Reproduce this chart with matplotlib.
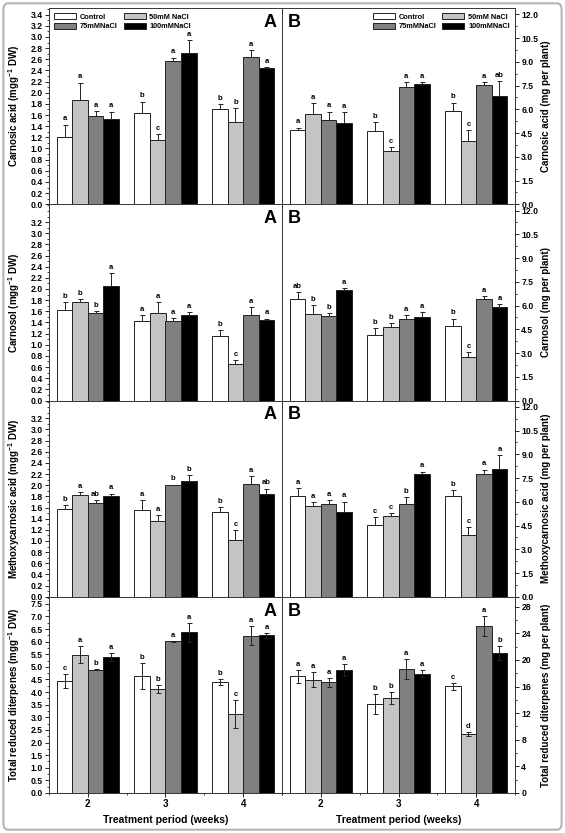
"""Salt-stress effects on rosemary diterpenes: per dry weight (A) and per plant (B)."""

import matplotlib.pyplot as plt
import numpy as np
from matplotlib.patches import FancyBboxPatch
from matplotlib.ticker import MultipleLocator, FixedLocator

plt.rcParams["font.family"] = ["Liberation Sans", "DejaVu Sans"]
plt.rcParams["font.weight"] = "bold"
plt.rcParams["mathtext.fontset"] = "custom"
plt.rcParams["mathtext.rm"] = "Liberation Sans:bold"
plt.rcParams["mathtext.default"] = "rm"

weeks = [2, 3, 4]
treatments = ["Control", "50mM NaCl", "75mMNaCl", "100mMNaCl"]
bar_colors = ["white", "#c4c4c4", "#808080", "black"]

# rows = treatments, columns = weeks 2, 3, 4
ca_dw = [[1.20, 1.63, 1.70], [1.87, 1.15, 1.47], [1.59, 2.57, 2.64], [1.53, 2.72, 2.44]]
ca_dw_err = [[0.23, 0.21, 0.09], [0.31, 0.11, 0.25], [0.08, 0.06, 0.13], [0.13, 0.22, 0.02]]
ca_dw_let = [["a", "b", "b"], ["a", "c", "b"], ["a", "a", "a"], ["a", "a", "a"]]

ca_pl = [[4.71, 4.65, 5.91], [5.69, 3.35, 3.99], [5.35, 7.40, 7.53], [5.12, 7.57, 6.82]]
ca_pl_err = [[0.13, 0.53, 0.51], [0.70, 0.28, 0.70], [0.50, 0.32, 0.17], [0.70, 0.15, 0.96]]
ca_pl_let = [["a", "b", "b"], ["a", "c", "c"], ["a", "a", "a"], ["a", "a", "ab"]]

cs_dw = [[1.62, 1.43, 1.15], [1.77, 1.57, 0.65], [1.57, 1.43, 1.54], [2.05, 1.54, 1.45]]
cs_dw_err = [[0.14, 0.10, 0.11], [0.05, 0.19, 0.08], [0.03, 0.05, 0.14], [0.24, 0.04, 0.02]]
cs_dw_let = [["b", "a", "b"], ["b", "a", "c"], ["b", "a", "a"], ["a", "a", "a"]]

cs_pl = [[6.40, 4.11, 4.71], [5.45, 4.66, 2.78], [5.33, 5.13, 6.42], [6.97, 5.30, 5.88]]
cs_pl_err = [[0.45, 0.47, 0.47], [0.56, 0.21, 0.28], [0.21, 0.26, 0.17], [0.15, 0.30, 0.21]]
cs_pl_let = [["ab", "b", "b"], ["b", "b", "c"], ["b", "a", "a"], ["a", "a", "a"]]

mc_dw = [[1.57, 1.55, 1.52], [1.82, 1.36, 1.01], [1.69, 2.00, 2.03], [1.81, 2.07, 1.84]]
mc_dw_err = [[0.08, 0.19, 0.09], [0.06, 0.10, 0.19], [0.04, 0.01, 0.14], [0.04, 0.11, 0.10]]
mc_dw_let = [["b", "a", "b"], ["a", "a", "c"], ["ab", "b", "a"], ["a", "b", "ab"]]

mc_pl = [[6.39, 4.56, 6.39], [5.73, 5.13, 3.90], [5.84, 5.88, 7.73], [5.33, 7.78, 8.08]]
mc_pl_err = [[0.48, 0.46, 0.33], [0.26, 0.15, 0.51], [0.29, 0.40, 0.31], [0.68, 0.13, 0.88]]
mc_pl_let = [["a", "c", "b"], ["a", "c", "c"], ["a", "b", "a"], ["a", "a", "a"]]

td_dw = [[4.45, 4.64, 4.41], [5.48, 4.11, 3.13], [4.89, 6.02, 6.24], [5.40, 6.37, 6.25]]
td_dw_err = [[0.28, 0.51, 0.11], [0.34, 0.16, 0.56], [0.02, 0.02, 0.38], [0.16, 0.37, 0.09]]
td_dw_let = [["c", "b", "b"], ["a", "b", "c"], ["b", "a", "a"], ["a", "a", "a"]]

td_pl = [[17.56, 13.40, 16.06], [17.06, 14.30, 8.83], [16.66, 18.57, 25.04], [18.47, 17.96, 21.07]]
td_pl_err = [[1.0, 1.5, 0.55], [1.1, 0.95, 0.3], [0.7, 1.5, 1.5], [0.85, 0.5, 1.05]]
td_pl_let = [["a", "b", "c"], ["a", "b", "d"], ["a", "a", "a"], ["a", "a", "b"]]

left_labels = [
    r"Carnosic acid (mgg$^{-1}$ DW)",
    r"Carnosol (mgg$^{-1}$ DW)",
    r"Methoxycarnosic acid (mgg$^{-1}$ DW)",
    r"Total reduced diterpenes (mgg$^{-1}$ DW)",
]
right_labels = [
    "Carnosic acid (mg per plant)",
    "Carnosol (mg per plant)",
    "Methoxycarnosic acid (mg per plant)",
    "Total reduced diterpenes (mg per plant)",
]

rows = [
    (ca_dw, ca_dw_err, ca_dw_let, ca_pl, ca_pl_err, ca_pl_let),
    (cs_dw, cs_dw_err, cs_dw_let, cs_pl, cs_pl_err, cs_pl_let),
    (mc_dw, mc_dw_err, mc_dw_let, mc_pl, mc_pl_err, mc_pl_let),
    (td_dw, td_dw_err, td_dw_let, td_pl, td_pl_err, td_pl_let),
]

fig = plt.figure(figsize=(5.65, 8.33), dpi=100)

# rounded grey frame round the whole figure
fig.patches.append(
    FancyBboxPatch((0.006, 0.004), 0.988, 0.992, boxstyle="round,pad=0,rounding_size=0.008",
                   transform=fig.transFigure, fc="none", ec="#b5b5b5", lw=1.5)
)

W, H = 565, 833
x_left, x_mid, x_right = 49, 282, 515
y_top, y_bot = 8, 793
row_h = (y_bot - y_top) / 4

offsets = [-0.3, -0.1, 0.1, 0.3]
width = 0.2
x = np.array(weeks, dtype=float)


def draw(ax, means, errs, letters, ymax, both_sides, pad):
    handles = []
    for i in range(4):
        m = np.array(means[i])
        e = np.array(errs[i])
        lo = e if both_sides else np.zeros_like(e)
        h = ax.bar(x + offsets[i], m, width, color=bar_colors[i], edgecolor="#222222", lw=0.7,
                   label=treatments[i], zorder=2)
        handles.append(h)
        ax.errorbar(x + offsets[i], m, yerr=[lo, e], fmt="none", ecolor="#222222",
                    elinewidth=0.7, capsize=1.8, capthick=0.7, zorder=3)
        for xi, yi, ei, t in zip(x + offsets[i], m, e, letters[i]):
            ax.text(xi, yi + ei + pad, t, ha="center", va="bottom", fontsize=5.5,
                    fontweight="bold")
    ax.set_xlim(1.5, 4.5)
    ax.set_ylim(0, ymax)
    return handles


for r, (dw, dw_e, dw_l, pl, pl_e, pl_l) in enumerate(rows):
    top = y_top + r * row_h
    bottom = (H - (top + row_h)) / H
    axA = fig.add_axes([x_left / W, bottom, (x_mid - x_left) / W, row_h / H])
    axB = fig.add_axes([x_mid / W, bottom, (x_right - x_mid) / W, row_h / H])
    last = r == 3

    if last:
        hA = draw(axA, dw, dw_e, dw_l, 7.78, True, 0.08)
        hB = draw(axB, pl, pl_e, pl_l, 29.5, True, 0.3)
        axA.yaxis.set_major_locator(MultipleLocator(0.5))
        axA.yaxis.set_minor_locator(MultipleLocator(0.25))
        axB.yaxis.set_major_locator(MultipleLocator(4))
        axB.yaxis.set_minor_locator(MultipleLocator(2))
        axA.yaxis.set_major_formatter("{x:.1f}")
        axB.yaxis.set_major_formatter("{x:.0f}")
    else:
        hA = draw(axA, dw, dw_e, dw_l, 3.52, False, 0.04)
        hB = draw(axB, pl, pl_e, pl_l, 12.4, False, 0.14)
        top_tick = 3.4 if r == 0 else 3.2
        axA.yaxis.set_major_locator(FixedLocator(np.arange(0, top_tick + 0.01, 0.2)))
        axA.yaxis.set_minor_locator(MultipleLocator(0.1))
        axB.yaxis.set_major_locator(MultipleLocator(1.5))
        axB.yaxis.set_minor_locator(MultipleLocator(0.75))
        axA.yaxis.set_major_formatter("{x:.1f}")
        axB.yaxis.set_major_formatter("{x:.1f}")

    for ax in (axA, axB):
        ax.set_xticks(weeks)
        ax.xaxis.set_minor_locator(MultipleLocator(0.5))
        ax.tick_params(axis="both", which="major", direction="out", length=3, width=0.6,
                       labelsize=6.2, pad=1.5)
        ax.tick_params(axis="both", which="minor", direction="out", length=1.6, width=0.5)
        for s in ax.spines.values():
            s.set_color("#333333")
            s.set_linewidth(0.7)
        if last:
            ax.set_xticklabels([str(w) for w in weeks], fontsize=7, fontweight="bold")
            ax.set_xlabel("Treatment period (weeks)", fontsize=7.5, fontweight="bold", labelpad=4)
        else:
            ax.set_xticklabels([])

    axB.yaxis.tick_right()
    axB.yaxis.set_label_position("right")

    axA.set_ylabel(left_labels[r], fontsize=7, fontweight="bold")
    axA.yaxis.set_label_coords(-0.115, 0.5)
    axB.set_ylabel(right_labels[r], fontsize=7, fontweight="bold")
    axB.yaxis.set_label_coords(1.11, 0.5)

    axA.text(0.975, 0.97, "A", transform=axA.transAxes, ha="right", va="top",
             fontsize=13, fontweight="bold")
    axB.text(0.025, 0.97, "B", transform=axB.transAxes, ha="left", va="top",
             fontsize=13, fontweight="bold")

    if r == 0:
        # column-major fill: Control / 75mM in column 1, 50mM / 100mM in column 2
        order = [0, 2, 1, 3]
        for ax, hs, loc in ((axA, hA, "upper left"), (axB, hB, "upper right")):
            ax.legend([hs[k] for k in order], [treatments[k] for k in order],
                      loc=loc, ncol=2, frameon=False,
                      handlelength=3.0, handleheight=0.9, handletextpad=0.5,
                      columnspacing=0.8, labelspacing=0.25, borderaxespad=0.3,
                      prop={"weight": "bold", "size": 5.3})

plt.savefig("out.png", dpi=100)
print("saved out.png")
